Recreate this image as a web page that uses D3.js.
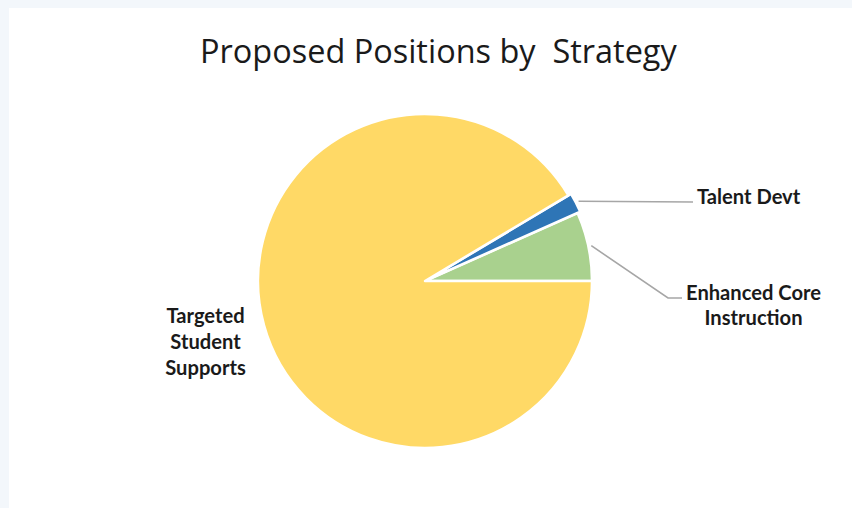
<!DOCTYPE html>
<html><head><meta charset="utf-8">
<script src="https://cdn.jsdelivr.net/npm/d3@7/dist/d3.min.js"></script>
<style>
html,body{margin:0;padding:0;background:#f3f7fb;}
svg{display:block;}
</style></head>
<body>
<script>
const title = "Proposed Positions by  Strategy";
const categories = ["Enhanced Core Instruction", "Talent Devt", "Targeted Student Supports"];
const values = [7, 2, 96];
const colors = ["#A9D18E", "#2E75B6", "#FFD966"];
const labelLines = [["Enhanced Core", "Instruction"], ["Talent Devt"], ["Targeted", "Student", "Supports"]];

const W = 852, H = 508;
const svg = d3.select("body").append("svg").attr("width", W).attr("height", H);
svg.append("rect").attr("x", 9).attr("y", 8).attr("width", W - 9).attr("height", H - 8).attr("fill", "#ffffff");

const cx = 425, cy = 281, R = 167;
const g = svg.append("g").attr("transform", `translate(${cx},${cy})`);
const data = categories.map((c, i) => ({c, v: values[i], i}));
const pie = d3.pie().value(d => d.v).sort(null).startAngle(Math.PI / 2).endAngle(Math.PI / 2 - 2 * Math.PI);
const arcs = pie(data);
const arc = d3.arc().innerRadius(0).outerRadius(R);
const explode = [0, 3, 0];

g.selectAll("path").data(arcs).join("path")
  .attr("d", arc)
  .attr("fill", d => colors[d.data.i])
  .attr("stroke", "#ffffff").attr("stroke-width", 2.5).attr("stroke-linejoin", "round")
  .attr("transform", d => {
    const a = (d.startAngle + d.endAngle) / 2, e = explode[d.data.i];
    return `translate(${Math.sin(a) * e},${-Math.cos(a) * e})`;
  });

// title
const t = svg.append("text").attr("x", 200).attr("y", 63)
  .attr("font-family", "'Open Sans', sans-serif").attr("font-size", 30).attr("fill", "#1a1a1a")
  .style("white-space", "pre").text(title);
let tw = t.node().getComputedTextLength();
t.attr("font-size", 30 * 477 / tw);

// leader lines
const midPt = (d, r) => { const a = (d.startAngle + d.endAngle) / 2; return [cx + Math.sin(a) * r, cy - Math.cos(a) * r]; };
const leader = [
  [midPt(arcs[0], R + 3), [668, 298], [682, 298]],
  [midPt(arcs[1], R + 6), [693, 202]]
];
svg.selectAll("polyline").data(leader).join("polyline")
  .attr("points", d => d.map(p => p.join(",")).join(" "))
  .attr("fill", "none").attr("stroke", "#a6a6a6").attr("stroke-width", 1.6);

// labels
const lab = svg.append("g").attr("font-family", "Lato, 'Open Sans', sans-serif").attr("font-weight", "bold").attr("fill", "#1a1a1a");
const probe = lab.append("text").attr("font-size", 16).text(labelLines[0][0]);
const fs = 16 * 135 / probe.node().getComputedTextLength();
probe.remove();
const labelPos = [
  {x: 753.5, anchor: "middle", y0: 300, dy: 25},
  {x: 697, anchor: "start", y0: 203.5, dy: 25},
  {x: 205.5, anchor: "middle", y0: 323, dy: 26}
];
labelLines.forEach((lines, i) => {
  const p = labelPos[i];
  lines.forEach((s, j) => {
    lab.append("text").attr("x", p.x).attr("y", p.y0 + j * p.dy)
      .attr("text-anchor", p.anchor).attr("font-size", fs).text(s);
  });
});
</script>
</body></html>
